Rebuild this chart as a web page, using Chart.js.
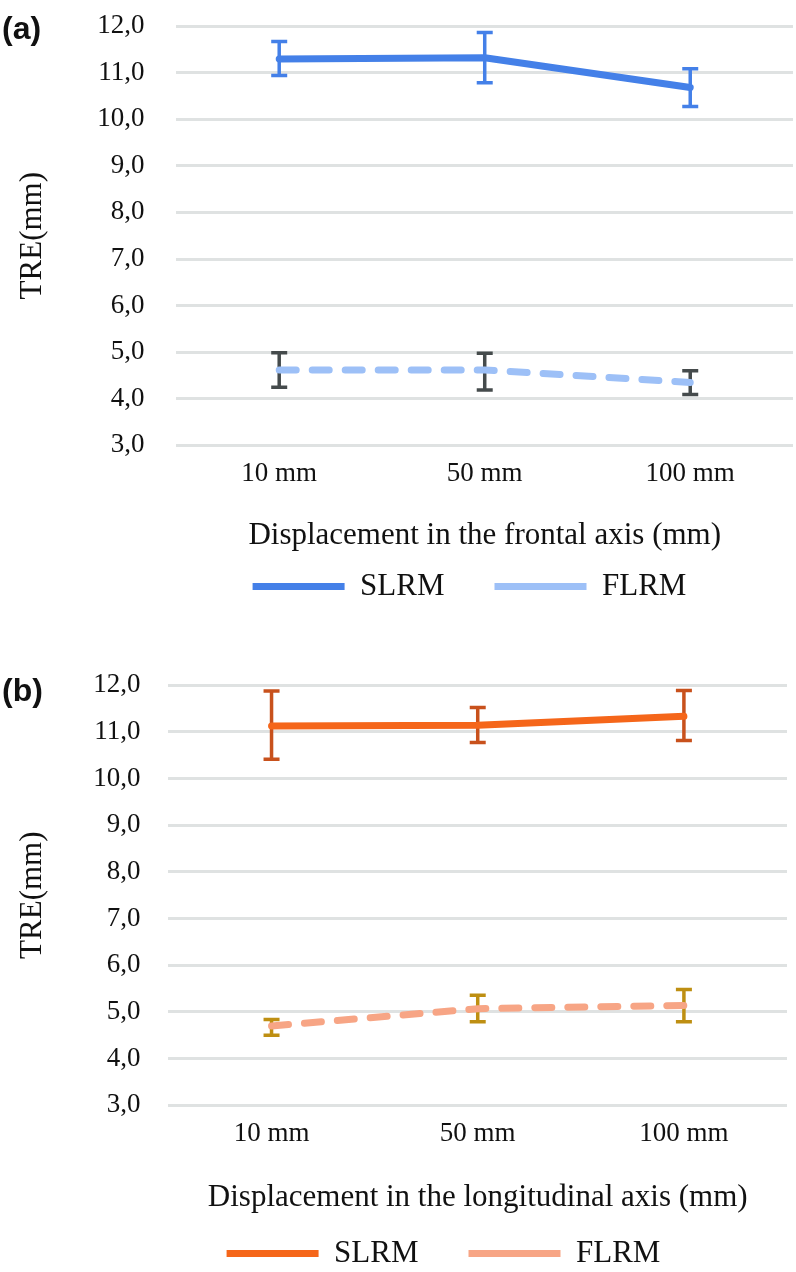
<!DOCTYPE html>
<html><head><meta charset="utf-8">
<script src="https://cdn.jsdelivr.net/npm/chart.js@4.4.0/dist/chart.umd.min.js"></script>
<style>
html,body{margin:0;padding:0;background:#fff;width:796px;height:1272px;overflow:hidden;position:relative;}
.wrap{position:absolute;left:0;width:796px;}
#wa{top:0;height:645px;}
#wb{top:640px;height:667px;}
.tag{position:absolute;left:2px;font:bold 32px "Liberation Sans",Arial,sans-serif;color:#111;line-height:1;}
</style></head><body>
<div class="wrap" id="wa"><canvas id="ca" width="796" height="645"></canvas></div>
<div class="wrap" id="wb"><canvas id="cb" width="796" height="667"></canvas></div>
<div class="tag" style="top:12px">(a)</div>
<div class="tag" style="top:674px">(b)</div>
<script>
// ---- data ----
const categories = ['10 mm', '50 mm', '100 mm'];
const seriesNames = ['SLRM', 'FLRM'];

// panel (a): frontal axis
const a_SLRM = [11.29, 11.32, 10.68];
const a_SLRM_high = [11.67, 11.86, 11.08];
const a_SLRM_low = [10.94, 10.78, 10.27];
const a_FLRM = [4.62, 4.62, 4.35];
const a_FLRM_high = [4.99, 4.98, 4.60];
const a_FLRM_low = [4.25, 4.19, 4.09];

// panel (b): longitudinal axis
const b_SLRM = [11.12, 11.14, 11.33];
const b_SLRM_high = [11.87, 11.52, 11.88];
const b_SLRM_low = [10.41, 10.77, 10.81];
const b_FLRM = [4.70, 5.07, 5.14];
const b_FLRM_high = [4.84, 5.36, 5.48];
const b_FLRM_low = [4.50, 4.79, 4.79];

const yMin = 3, yMax = 12, yStep = 1;
const yTitle = 'TRE(mm)';
const xTitleA = 'Displacement in the frontal axis (mm)';
const xTitleB = 'Displacement in the longitudinal axis (mm)';

// ---- plugins ----
const errorBars = {
  id: 'errorBars',
  beforeDatasetsDraw(chart) {
    const ctx = chart.ctx, xs = chart.scales.x, ys = chart.scales.y;
    chart.data.datasets.forEach(ds => {
      if (!ds.errLow) return;
      ctx.save();
      ctx.strokeStyle = ds.errColor;
      ctx.lineWidth = 3.5;
      ctx.lineCap = 'butt';
      ds.data.forEach((v, j) => {
        const px = xs.getPixelForValue(j);
        const yt = ys.getPixelForValue(ds.errHigh[j]);
        const yb = ys.getPixelForValue(ds.errLow[j]);
        ctx.beginPath();
        ctx.moveTo(px, yt); ctx.lineTo(px, yb);
        ctx.moveTo(px - 8, yt); ctx.lineTo(px + 8, yt);
        ctx.moveTo(px - 8, yb); ctx.lineTo(px + 8, yb);
        ctx.stroke();
      });
      ctx.restore();
    });
  }
};
const legendShift = {
  id: 'legendShift',
  afterLayout(chart, args, opts) {
    const l = chart.legend; if (!l) return;
    const dx = opts.dx || 0, dy = opts.dy || 0;
    l.left += dx; l.right += dx; l.top += dy; l.bottom += dy;
  }
};

const FONT = 'Liberation Serif';
const TXT = '#111';

function makeChart(id, s1, s1h, s1l, s2, s2h, s2l, colors, xTitle, lay) {
  return new Chart(document.getElementById(id), {
    type: 'line',
    data: {
      labels: categories,
      datasets: [
        { label: seriesNames[0], data: s1, borderColor: colors[0], backgroundColor: colors[0],
          borderWidth: 7, pointRadius: 0, borderCapStyle: 'round', borderJoinStyle: 'round',
          errHigh: s1h, errLow: s1l, errColor: colors[1] },
        { label: seriesNames[1], data: s2, borderColor: colors[2], backgroundColor: colors[2],
          borderWidth: 7, pointRadius: 0, borderCapStyle: 'round', borderJoinStyle: 'round',
          borderDash: [17, 16], errHigh: s2h, errLow: s2l, errColor: colors[3] }
      ]
    },
    options: {
      responsive: false, animation: false,
      layout: { padding: lay.padding },
      scales: {
        x: {
          offset: true,
          grid: { display: false, drawTicks: false },
          border: { display: false },
          ticks: { padding: 12, color: TXT, font: { family: FONT, size: 27 } },
          title: { display: true, text: xTitle, color: TXT, font: { family: FONT, size: 31 },
                   padding: { top: lay.titleTop, bottom: 0 } }
        },
        y: {
          min: yMin, max: yMax,
          afterFit: s => { s.paddingTop = 0; s.paddingBottom = 0; },
          grid: { color: '#dfe2e2', lineWidth: 3, drawTicks: false },
          border: { display: false },
          ticks: { stepSize: yStep, padding: lay.tickPad, color: TXT, font: { family: FONT, size: 27 },
                   callback: v => v.toFixed(1).replace('.', ',') },
          title: { display: true, text: yTitle, color: TXT, font: { family: FONT, size: 31 },
                   padding: { top: 14, bottom: 14 } }
        }
      },
      plugins: {
        tooltip: { enabled: false },
        legend: {
          position: 'bottom',
          labels: { usePointStyle: true, pointStyle: 'line', pointStyleWidth: 92, padding: 50,
                    color: TXT, font: { family: FONT, size: 31 } }
        },
        legendShift: { dx: lay.dx, dy: lay.dy }
      }
    },
    plugins: [errorBars, legendShift]
  });
}

makeChart('ca', a_SLRM, a_SLRM_high, a_SLRM_low, a_FLRM, a_FLRM_high, a_FLRM_low,
  ['#4480e8', '#4480e8', '#9dc0f7', '#454b4c'], xTitleA,
  { padding: { top: 26, left: 0, right: 3, bottom: 0 }, titleTop: 15, tickPad: 32, dx: 73, dy: -33 });

makeChart('cb', b_SLRM, b_SLRM_high, b_SLRM_low, b_FLRM, b_FLRM_high, b_FLRM_low,
  ['#f5661a', '#c8511c', '#f7a585', '#be8f12'], xTitleB,
  { padding: { top: 45, left: 0, right: 9, bottom: 0 }, titleTop: 17, tickPad: 28, dx: 50, dy: -28 });
</script>
</body></html>
